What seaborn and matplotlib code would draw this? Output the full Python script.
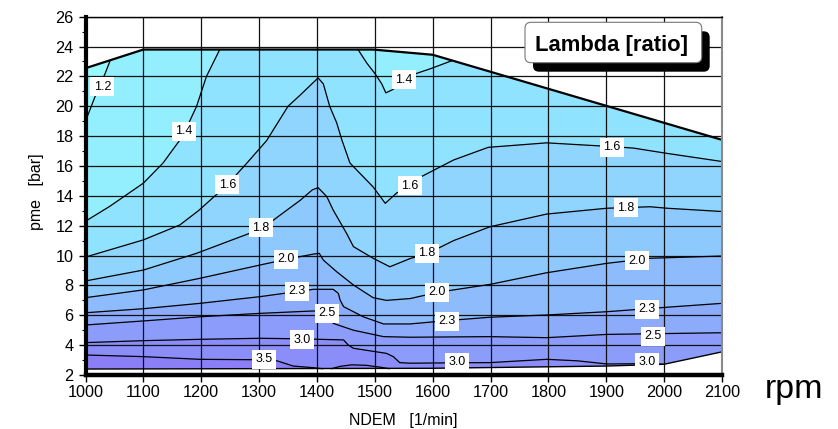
import numpy as np
import pandas as pd
import matplotlib
matplotlib.use("Agg")
import matplotlib.pyplot as plt
import seaborn as sns
from matplotlib.patches import Polygon, FancyBboxPatch
from matplotlib.colors import ListedColormap, BoundaryNorm
from matplotlib.transforms import IdentityTransform
from matplotlib.ticker import MultipleLocator

# ---------------- data ----------------
levels = [1.2, 1.4, 1.6, 1.8, 2.0, 2.3, 2.5, 3.0, 3.5]

# operating envelope (full-load curve on top, lower limit at the bottom)
env_top_rpm = [1000, 1100, 1497, 1600, 2100]
env_top_pme = [22.55, 23.8, 23.8, 23.45, 17.75]
env_bot_rpm = [1000, 1600, 1900, 2000, 2100]
env_bot_pme = [2.4, 2.45, 2.6, 2.72, 3.55]

# iso-lambda lines
iso12_rpm = [1000, 1019, 1034, 1043]
iso12_pme = [19.0, 20.9, 22.2, 23.1]

iso14a_rpm = [1000, 1042, 1100, 1134, 1168, 1192, 1209, 1232]
iso14a_pme = [12.3, 13.3, 14.85, 16.2, 18.0, 20.0, 22.0, 23.8]

iso14b_rpm = [1471, 1486, 1500, 1512, 1519, 1530, 1572, 1595, 1633]
iso14b_pme = [23.8, 22.9, 22.2, 21.5, 20.9, 21.1, 22.2, 22.5, 23.05]

iso16_rpm = [1000, 1100, 1163, 1195, 1244, 1279, 1313, 1350, 1371, 1402, 1411, 1422,
             1434, 1443, 1457, 1497, 1518, 1538, 1561, 1581, 1636, 1696, 1797, 1909,
             1947, 2004, 2100]
iso16_pme = [9.9, 11.05, 12.05, 13.0, 14.7, 16.2, 17.7, 20.0, 20.75, 21.9, 21.5, 20.0,
             18.9, 17.75, 16.2, 14.6, 13.5, 14.2, 14.6, 15.3, 16.4, 17.25, 17.55, 17.3,
             17.2, 16.85, 16.3]

iso18_rpm = [1000, 1100, 1192, 1250, 1305, 1336, 1371, 1392, 1402, 1417, 1428, 1451,
             1463, 1497, 1526, 1561, 1592, 1636, 1699, 1797, 1901, 1976, 2005, 2100]
iso18_pme = [8.3, 9.03, 10.15, 11.0, 11.8, 12.7, 13.7, 14.4, 14.55, 13.95, 13.05, 11.5,
             10.6, 9.82, 9.25, 9.8, 10.15, 11.0, 11.93, 12.78, 13.17, 13.27, 13.17, 12.95]

iso20_rpm = [1000, 1100, 1198, 1302, 1347, 1394, 1404, 1411, 1434, 1463, 1497, 1520,
             1561, 1609, 1699, 1797, 1901, 1976, 2100]
iso20_pme = [7.18, 7.7, 8.48, 9.37, 9.75, 10.1, 10.15, 9.7, 8.92, 8.03, 7.18, 7.0,
             7.12, 7.54, 8.07, 8.85, 9.48, 9.82, 9.97]

iso23_rpm = [1000, 1100, 1198, 1302, 1364, 1394, 1428, 1437, 1440, 1446, 1480, 1515,
             1561, 1624, 1699, 1797, 1901, 2005, 2100]
iso23_pme = [6.17, 6.44, 6.8, 7.25, 7.58, 7.74, 7.74, 7.47, 7.02, 6.58, 5.9, 5.42,
             5.42, 5.64, 5.87, 6.02, 6.24, 6.54, 6.8]

iso25_rpm = [1000, 1100, 1198, 1302, 1394, 1416, 1428, 1463, 1515, 1561, 1699, 1797,
             1901, 2100]
iso25_pme = [5.35, 5.62, 5.9, 6.13, 6.29, 6.17, 5.46, 5.0, 4.57, 4.53, 4.57, 4.5,
             4.72, 4.83]

iso30_rpm = [1000, 1100, 1198, 1302, 1373, 1446, 1454, 1463, 1520, 1532, 1543, 1561,
             1647, 1699, 1797, 1850, 1901, 1970, 1998]
iso30_pme = [4.17, 4.3, 4.39, 4.46, 4.42, 4.35, 4.01, 3.79, 3.45, 3.23, 2.83, 2.79,
             2.82, 2.83, 3.05, 2.95, 2.74, 2.76, 2.72]

iso35a_rpm = [1000, 1100, 1198, 1307, 1330, 1359, 1394, 1410]
iso35a_pme = [3.34, 3.23, 3.05, 3.02, 2.96, 2.6, 2.49, 2.42]
iso35b_rpm = [1425, 1440, 1460, 1485, 1510, 1525]
iso35b_pme = [2.42, 2.58, 2.68, 2.65, 2.52, 2.42]

# in-line labels
lab_text = ["1.2", "1.4", "1.4", "1.6", "1.6", "1.6", "1.8", "1.8", "1.8",
            "2.0", "2.0", "2.0", "2.3", "2.3", "2.3", "2.5", "2.5",
            "3.0", "3.0", "3.0", "3.5"]
lab_rpm = [1029, 1170, 1550, 1245, 1561, 1910, 1303, 1590, 1934,
           1347, 1608, 1953, 1366, 1625, 1970, 1417, 1981,
           1374, 1642, 1970, 1308]
lab_pme = [21.3, 18.34, 21.76, 14.73, 14.66, 17.27, 11.85, 10.17, 13.19,
           9.76, 7.55, 9.64, 7.62, 5.61, 6.42, 6.15, 4.61,
           4.35, 2.87, 2.87, 3.07]

band_colors = ["#97F8FE", "#93EEFE", "#90E3FE", "#8FD5FD", "#8EC9FD",
               "#8DBBFC", "#8CABFB", "#8B9CFA", "#8B8DF9", "#8A7FF7"]

# ---------------- figure ----------------
sns.set_theme(style="white")
plt.rcParams["font.family"] = ["Liberation Sans", "DejaVu Sans"]

W, H = 838, 429
fig = plt.figure(figsize=(W / 100, H / 100), dpi=100)
x0, x1, ytop, ybot = 85.5, 722.0, 16.7, 375.0
ax = fig.add_axes([x0 / W, 1 - ybot / H, (x1 - x0) / W, (ybot - ytop) / H])
ax.set_xlim(1000, 2100)
ax.set_ylim(2, 26)

# envelope polygon
env_x = env_top_rpm + env_bot_rpm[::-1]
env_y = env_top_pme + env_bot_pme[::-1]
env_poly = Polygon(np.column_stack([env_x, env_y]), closed=True,
                   transform=ax.transData, fc="none", ec="none")
ax.add_patch(env_poly)

# iso line segments: (level, rpm, pme, value outside its rpm range)
segments = [
    (1.2, iso12_rpm, iso12_pme, np.inf),
    (1.4, iso14a_rpm, iso14a_pme, np.inf),
    (1.4, iso14b_rpm, iso14b_pme, np.inf),
    (1.6, iso16_rpm, iso16_pme, np.inf),
    (1.8, iso18_rpm, iso18_pme, np.inf),
    (2.0, iso20_rpm, iso20_pme, np.inf),
    (2.3, iso23_rpm, iso23_pme, np.inf),
    (2.5, iso25_rpm, iso25_pme, np.inf),
    (3.0, iso30_rpm, iso30_pme, -np.inf),
    (3.5, iso35a_rpm, iso35a_pme, -np.inf),
    (3.5, iso35b_rpm, iso35b_pme, -np.inf),
]

gx = np.linspace(1000, 2100, 1101)
gy = np.linspace(2, 26, 1201)
GX, GY = np.meshgrid(gx, gy)
band = np.zeros(GX.shape, dtype=int)
for L in levels:
    segs = [s for s in segments if s[0] == L]
    belows = [GY < np.interp(GX, sx, sy, left=f, right=f) for (_, sx, sy, f) in segs]
    if segs[0][3] == np.inf:
        higher = np.logical_and.reduce(belows)
    else:
        higher = np.logical_or.reduce(belows)
    band += higher.astype(int)

cmap = ListedColormap(band_colors)
norm = BoundaryNorm(np.arange(-0.5, len(band_colors) + 0.5, 1), len(band_colors))
im = ax.imshow(band, extent=(1000, 2100, 2, 26), origin="lower", cmap=cmap, norm=norm,
               interpolation="nearest", aspect="auto", zorder=0)
im.set_clip_path(env_poly)

# iso lines through seaborn
rows = []
for k, (L, sx, sy, f) in enumerate(segments):
    rows.append(pd.DataFrame({"rpm": sx, "pme": sy, "seg": k}))
lines_df = pd.concat(rows, ignore_index=True)
sns.lineplot(data=lines_df, x="rpm", y="pme", units="seg", estimator=None, sort=False,
             color="black", linewidth=0.9, ax=ax, zorder=3)

# envelope outline
ax.plot(env_top_rpm, env_top_pme, color="black", lw=1.6, zorder=3.5,
        solid_capstyle="butt")
ax.plot(env_bot_rpm, env_bot_pme, color="black", lw=1.0, zorder=3.5)

# labels on lines
for t, xr, yp in zip(lab_text, lab_rpm, lab_pme):
    ax.text(xr, yp, t, ha="center", va="center", fontsize=9, color="black", zorder=5,
            bbox=dict(boxstyle="square,pad=0.28", fc="white", ec="none"))

# grid, ticks, spines
ax.set_xticks(np.arange(1000, 2101, 100))
ax.set_yticks(np.arange(2, 27, 2))
ax.yaxis.set_minor_locator(MultipleLocator(1))
ax.set_axisbelow(False)
ax.grid(True, which="major", color="#111111", lw=0.9)
ax.grid(False, which="minor")
ax.tick_params(axis="both", which="major", direction="out", length=5, width=1,
               color="black", labelsize=11.7, labelcolor="black", bottom=True, left=True)
ax.tick_params(axis="y", which="major", pad=3.5)
ax.tick_params(axis="x", which="major", pad=2.5)
ax.tick_params(axis="y", which="minor", direction="out", length=3, width=0.8,
               color="black", left=True)
ax.set_xlabel("")
ax.set_ylabel("")
for side, lw, col in [("left", 3.0, "black"), ("bottom", 3.2, "black"),
                      ("top", 1.0, "black"), ("right", 1.5, "#8a8a8a")]:
    ax.spines[side].set_visible(True)
    ax.spines[side].set_linewidth(lw)
    ax.spines[side].set_color(col)
    ax.spines[side].set_zorder(4)

# axis titles
fig.text(403 / W, 1 - 425 / H, "NDEM   [1/min]", ha="center", va="baseline",
         fontsize=11.5, color="black")
fig.text(40.5 / W, 1 - 191.5 / H, "pme   [bar]", ha="center", va="baseline",
         rotation=90, rotation_mode="anchor", fontsize=11.5, color="black")
fig.text(765 / W, 1 - 398 / H, "rpm", ha="left", va="baseline", fontsize=24.5,
         color="black")

# title box with drop shadow
bx0, by0, bx1, by1 = 525.0, 22.3, 701.7, 62.7
shadow = FancyBboxPatch((bx0 + 8, H - by1 - 9), bx1 - bx0, by1 - by0,
                        boxstyle="round,pad=0,rounding_size=6",
                        transform=IdentityTransform(), fc="black", ec="black",
                        lw=0, zorder=10)
box = FancyBboxPatch((bx0, H - by1), bx1 - bx0, by1 - by0,
                     boxstyle="round,pad=0,rounding_size=6",
                     transform=IdentityTransform(), fc="white", ec="#777777",
                     lw=0.8, zorder=11)
fig.add_artist(shadow)
fig.add_artist(box)
fig.text(611 / W, 1 - 45.5 / H, "Lambda [ratio]", ha="center", va="center",
         fontsize=15.8, fontweight="bold", color="black", zorder=12)

fig.savefig("out.png", dpi=100)
